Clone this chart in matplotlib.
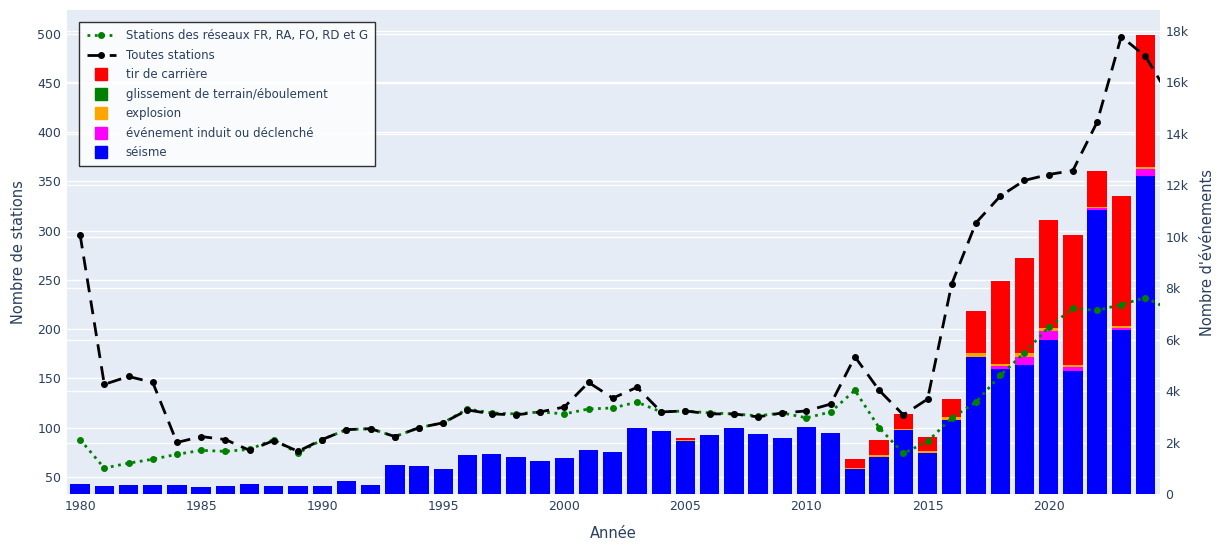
import matplotlib.pyplot as plt
from matplotlib.lines import Line2D
import numpy as np

years = list(range(1980, 2025))
line_years = list(range(1980, 2026))

# events per type (bars, right axis), stacked bottom to top
seisme = [390, 310, 350, 350, 350, 270, 310, 390, 310, 310, 310, 505, 350, 1130, 1090, 970,
          1520, 1555, 1440, 1280, 1400, 1710, 1630, 2570, 2450, 2060, 2290, 2570, 2330, 2180,
          2600, 2370, 970, 1440, 2490, 1590, 2880, 5330, 4860, 5020, 5990, 4780, 11040, 6380, 12360]
induit = [0]*38 + [110, 310, 350, 150, 60, 60, 280]
explosion = [0]*25 + [40, 0, 0, 0, 0, 0, 0, 30, 80, 40, 80, 110, 150, 80, 150, 110, 80, 60, 80, 80]
glissement = [0]*45
tir = [0]*25 + [80, 0, 0, 0, 0, 0, 0, 360, 580, 580, 550, 700, 1640, 3230, 3700, 4200, 5070, 1380, 5070, 5130]

toutes = [296, 144, 152, 146, 85, 91, 88, 77, 87, 76, 88, 98, 99, 91, 100, 105, 118, 114, 113, 116,
          121, 146, 130, 141, 116, 117, 114, 114, 111, 115, 117, 124, 172, 138, 113, 129, 246, 308,
          335, 351, 357, 361, 410, 497, 477, 436]
reseaux = [88, 59, 64, 68, 73, 77, 76, 78, 88, 74, 88, 98, 99, 91, 100, 105, 119, 115, 114, 116,
           114, 119, 120, 126, 116, 117, 115, 114, 112, 115, 110, 116, 138, 100, 74, 86, 110, 126,
           153, 176, 202, 221, 219, 225, 232, 220]

series = [("séisme", seisme, "#0000FF"),
          ("événement induit ou déclenché", induit, "#FF00FF"),
          ("explosion", explosion, "#FFA500"),
          ("glissement de terrain/éboulement", glissement, "#008000"),
          ("tir de carrière", tir, "#FF0000")]

lmin, lmax = 32.7, 524
rmin, rmax = 0, 18817
bg = "#E5ECF6"
txt = "#2a3f5f"

fig = plt.figure(figsize=(12.2, 5.46), dpi=100)
axr = fig.add_axes([67/1220, 1-494/546, (1160-67)/1220, (494-10)/546])
ax = axr.twinx()
axr.set_facecolor(bg)
axr.set_zorder(1)
ax.set_zorder(2)
ax.patch.set_visible(False)

# grids (both on the bar axes so they stay under the bars)
for v in range(50, 501, 50):
    axr.axhline((v - lmin) / (lmax - lmin) * (rmax - rmin), color="white", lw=1, zorder=0)
for v in range(2000, 18001, 2000):
    axr.axhline(v, color="white", lw=1, zorder=0)

bottom = np.zeros(len(years))
for name, vals, col in series:
    axr.bar(years, vals, width=0.8, bottom=bottom, color=col, zorder=2)
    bottom += np.array(vals)

ax.plot(line_years, reseaux, color="green", ls=":", lw=2, marker="o", ms=4)
ax.plot(line_years, toutes, color="black", ls=(0, (5, 3)), lw=2, marker="o", ms=4)

axr.set_xlim(1979.46, 2024.6)
ax.set_xlim(1979.46, 2024.6)
axr.set_ylim(rmin, rmax)
ax.set_ylim(lmin, lmax)

# left axis shows stations, right axis shows events
axr.yaxis.tick_right()
axr.yaxis.set_label_position("right")
ax.yaxis.tick_left()
ax.yaxis.set_label_position("left")
ax.set_yticks(range(50, 501, 50))
axr.set_yticks(range(0, 18001, 2000))
axr.set_yticklabels(["0"] + [f"{k}k" for k in range(2, 19, 2)])
axr.set_xticks(range(1980, 2021, 5))
for a in (ax, axr):
    a.tick_params(length=0, labelsize=9, colors=txt, pad=4)
    for s in a.spines.values():
        s.set_visible(False)
ax.set_ylabel("Nombre de stations", fontsize=10.5, color=txt, labelpad=8)
axr.set_ylabel("Nombre d'événements", fontsize=10.5, color=txt, labelpad=8)
axr.set_xlabel("Année", fontsize=10.5, color=txt, labelpad=10)

handles = [Line2D([], [], color="green", ls=":", lw=2, marker="o", ms=4),
           Line2D([], [], color="black", ls=(0, (5, 3)), lw=2, marker="o", ms=4)]
labels = ["Stations des réseaux FR, RA, FO, RD et G", "Toutes stations"]
for name, vals, col in reversed(series):
    handles.append(Line2D([], [], color=col, marker="s", ms=9, ls="none"))
    labels.append(name)
leg = ax.legend(handles, labels, loc="upper left", bbox_to_anchor=(0.006, 0.987),
                fontsize=8.5, frameon=True, fancybox=False, labelspacing=0.55,
                handlelength=2.5, borderpad=0.6, labelcolor=txt)
leg.get_frame().set_edgecolor("black")
leg.get_frame().set_facecolor("white")
leg.get_frame().set_alpha(0.8)

fig.savefig("out.png")
